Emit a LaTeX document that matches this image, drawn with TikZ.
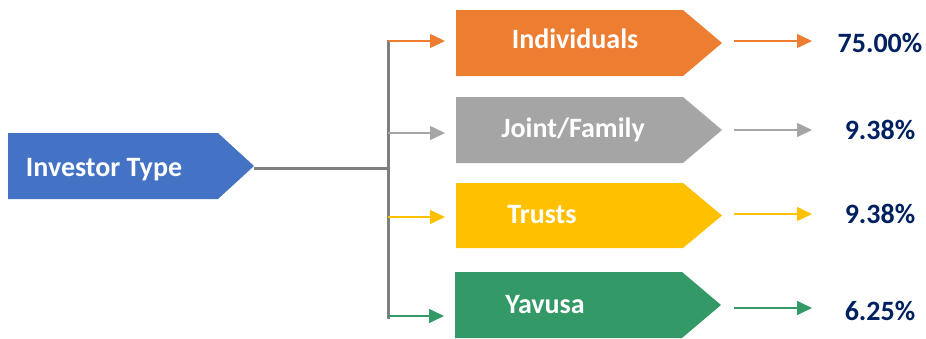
\documentclass[tikz,border=0pt]{standalone}
\usepackage{fontspec}
\setmainfont{Carlito}
\usetikzlibrary{arrows.meta}
\definecolor{cblue}{HTML}{4472C4}
\definecolor{corange}{HTML}{ED7D31}
\definecolor{cgray}{HTML}{A5A5A5}
\definecolor{cyellow}{HTML}{FFC000}
\definecolor{cgreen}{HTML}{339966}
\definecolor{cline}{HTML}{7F7F7F}
\definecolor{cnavy}{HTML}{002060}
\tikzset{
  boxlabel/.style={text=white, font=\bfseries\fontsize{28}{32}\selectfont, inner sep=0pt, anchor=base},
  pctlabel/.style={text=cnavy, font=\bfseries\fontsize{28}{32}\selectfont, inner sep=0pt, anchor=base},
  trunk/.style={draw=cline, line width=3pt},
  branch/.style={line width=1.5pt, -{Triangle[length=15pt,width=14pt]}},
}
% arrow-shaped box: #1 colour, #2 left x, #3 top y, #4 right end of body, #5 tip x, #6 height
\newcommand{\chevbox}[6]{%
  \fill[#1] (#2,#3) -- (#4,#3) -- (#5,#3+#6/2) -- (#4,#3+#6) -- (#2,#3+#6) -- cycle;}
\begin{document}
\begin{tikzpicture}[x=1pt,y=-1pt]
\useasboundingbox (0,0) rectangle (926,338);

% source box
\chevbox{cblue}{8}{133}{218}{254}{66}
\coordinate (invtip) at (254,168);
\node[boxlabel] (inv) at (104,176) {Investor Type};

% category boxes
\chevbox{corange}{456}{10}{683}{722}{66}
\chevbox{cgray}{456}{97}{683}{722}{66}
\chevbox{cyellow}{456}{183}{683}{722}{65}
\chevbox{cgreen}{455}{272}{682}{721}{66}
\node[boxlabel] (ind) at (575,48) {Individuals};
\node[boxlabel] (joint) at (573,137) {Joint/Family};
\node[boxlabel] (trust) at (542,223) {Trusts};
\node[boxlabel] (yav) at (545,313) {Yavusa};

% entry points of the boxes
\coordinate (indin) at (445,41);
\coordinate (jointin) at (445,133);
\coordinate (trustin) at (445,217);
\coordinate (yavin) at (444,316);

% bus
\coordinate (bustop) at (388,40);
\coordinate (busbot) at (388,319);
\coordinate (busmid) at (388,168);
\draw[trunk] (invtip) -- (busmid);
\draw[trunk] (bustop) -- (busbot);

\draw[branch, corange] (bustop |- indin) -- (indin);
\draw[branch, cgray] (bustop |- jointin) -- (jointin);
\draw[branch, cyellow] (bustop |- trustin) -- (trustin);
\draw[branch, cgreen] (bustop |- yavin) -- (yavin);

% percentages
\node[pctlabel] (p1) at (880,52) {75.00\%};
\node[pctlabel] (p2) at (880,139) {9.38\%};
\node[pctlabel] (p3) at (880,223) {9.38\%};
\node[pctlabel] (p4) at (880,320) {6.25\%};

% outgoing arrows from box tips to the values
\coordinate (o1) at (734,41);
\coordinate (o2) at (734,130);
\coordinate (o3) at (734,214);
\coordinate (o4) at (734,308);
\coordinate (e1) at (812,41);
\coordinate (e2) at (812,130);
\coordinate (e3) at (812,214);
\coordinate (e4) at (812,308);
\draw[branch, corange] (o1) -- (e1);
\draw[branch, cgray] (o2) -- (e2);
\draw[branch, cyellow] (o3) -- (e3);
\draw[branch, cgreen] (o4) -- (e4);
\end{tikzpicture}
\end{document}
